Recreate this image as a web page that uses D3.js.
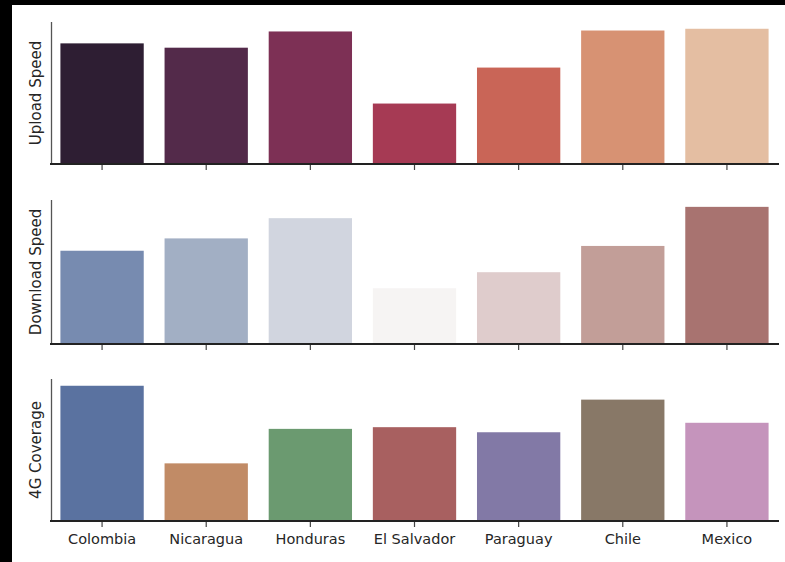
<!DOCTYPE html>
<html>
<head>
<meta charset="utf-8">
<script src="https://cdn.jsdelivr.net/npm/d3@7"></script>
<style>
html,body{margin:0;padding:0;background:#000;}
svg{display:block;}
text{font-family:"DejaVu Sans",sans-serif;}
</style>
</head>
<body>
<script>
const categories = ["Colombia","Nicaragua","Honduras","El Salvador","Paraguay","Chile","Mexico"];
const uploadSpeed = [8.92, 8.60, 9.80, 4.47, 7.13, 9.87, 10.0];
const downloadSpeed = [13.6, 15.4, 18.35, 8.13, 10.47, 14.3, 20.0];
const coverage4G = [80.0, 34.1, 54.5, 55.5, 52.5, 71.8, 58.1];
const uploadColors = ["#2e1e33","#532a4a","#7d3055","#a63a54","#c96557","#d79273","#e4bea2"];
const downloadColors = ["#778bb0","#a2afc4","#d1d5df","#f6f4f3","#dfcccc","#c29e98","#a87370"];
const coverageColors = ["#5a72a0","#c18b66","#6b9a70","#a86060","#8279a6","#887867","#c594bc"];
const yLabels = ["Upload Speed","Download Speed","4G Coverage"];

const W = 785, H = 562;
const svg = d3.select("body").append("svg").attr("width", W).attr("height", H);
svg.append("rect").attr("width", W).attr("height", H).attr("fill", "#000");
svg.append("rect").attr("x", 12).attr("y", 5).attr("width", W - 12).attr("height", H - 5).attr("fill", "#fff");

const x = d3.scaleBand().domain(categories).range([50, 779]).paddingInner(0.2).paddingOuter(0.1);

const panels = [
  {values: uploadSpeed, colors: uploadColors, top: 22, bottom: 164, label: yLabels[0], showLabels: false},
  {values: downloadSpeed, colors: downloadColors, top: 200, bottom: 344, label: yLabels[1], showLabels: false},
  {values: coverage4G, colors: coverageColors, top: 379, bottom: 521, label: yLabels[2], showLabels: true}
];

panels.forEach(p => {
  const y = d3.scaleLinear().domain([0, d3.max(p.values) * 1.05]).range([p.bottom, p.top]);
  const g = svg.append("g");
  g.selectAll("rect.bar").data(p.values).enter().append("rect")
    .attr("class", "bar")
    .attr("x", (d, i) => x(categories[i]))
    .attr("width", x.bandwidth())
    .attr("y", d => y(d))
    .attr("height", d => y(0) - y(d))
    .attr("fill", (d, i) => p.colors[i]);

  // left spine
  g.append("line").attr("x1", 51.5).attr("x2", 51.5).attr("y1", p.top).attr("y2", p.bottom)
    .attr("stroke", "#555").attr("stroke-width", 1.3);

  // bottom axis
  const ax = d3.axisBottom(x).tickSize(6).tickSizeOuter(0).tickPadding(7);
  if (!p.showLabels) ax.tickFormat(() => "");
  const axg = g.append("g").attr("transform", `translate(0,${p.bottom})`).call(ax);
  axg.select(".domain").remove();
  axg.selectAll(".tick line").attr("stroke", "#444").attr("stroke-width", 1.2);
  axg.selectAll(".tick text").attr("fill", "#262626").style("font-size", "14.5px")
    .style("font-family", "'DejaVu Sans', sans-serif");
  g.append("line").attr("x1", 50).attr("x2", 779).attr("y1", p.bottom).attr("y2", p.bottom)
    .attr("stroke", "#222").attr("stroke-width", 2.2);

  g.append("text")
    .attr("transform", `translate(41,${(p.top + p.bottom) / 2}) rotate(-90)`)
    .attr("text-anchor", "middle")
    .attr("fill", "#262626")
    .style("font-size", "15px")
    .text(p.label);
});
</script>
</body>
</html>
